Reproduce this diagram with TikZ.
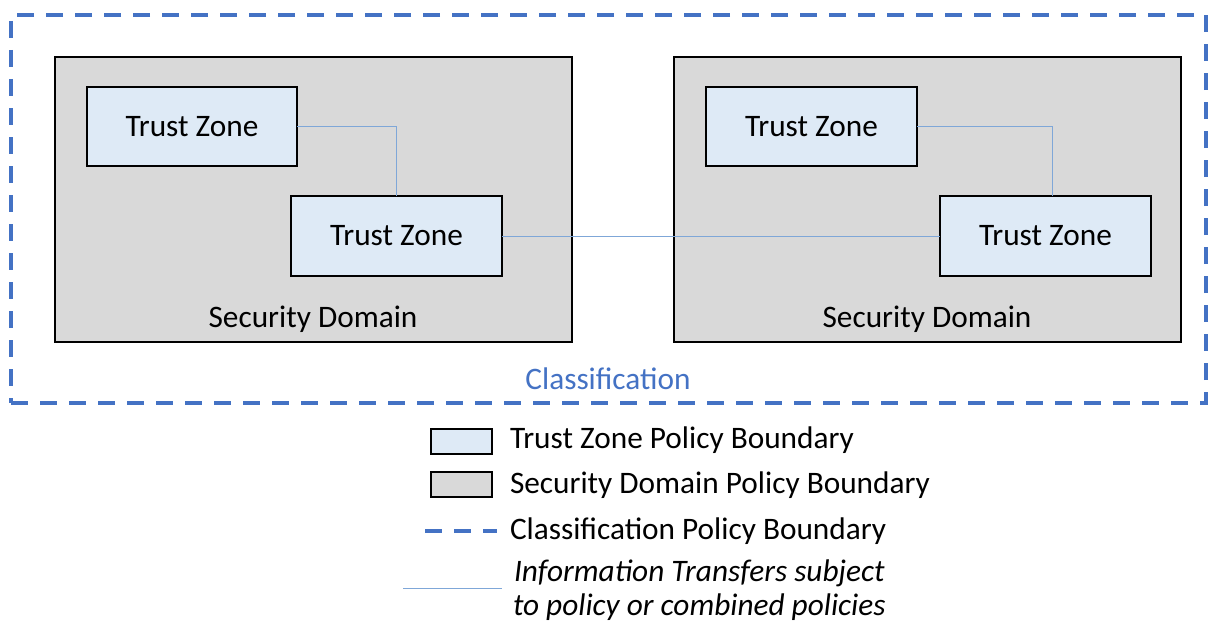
\documentclass[tikz,border=0pt]{standalone}
\usepackage{fontspec}
\setmainfont{Carlito}
\definecolor{classblue}{HTML}{4472C4}
\definecolor{zonefill}{HTML}{DEEAF6}
\definecolor{domainfill}{HTML}{D9D9D9}
\definecolor{linkblue}{HTML}{7FA7D8}
\begin{document}
\begin{tikzpicture}[x=1pt,y=-1pt,
  every node/.style={font=\fontsize{31.3}{37}\selectfont, inner sep=0pt, outer sep=0pt},
  zonebox/.style={draw=black, line width=1.5pt, fill=zonefill, minimum width=211pt, minimum height=80pt},
  domainbox/.style={draw=black, line width=1.5pt, fill=domainfill, minimum height=285pt},
  classline/.style={draw=classblue, line width=3.5pt, dash pattern=on 17pt off 12pt},
  link/.style={draw=linkblue, line width=1pt},
  legendbox/.style={draw=black, line width=1.5pt, minimum width=61pt, minimum height=25pt},
  legendtext/.style={anchor=west}
]
\useasboundingbox (0,0) rectangle (1208,621);

% classification boundary
\node[classline, minimum width=1195pt, minimum height=388pt] (cls) at (608.5,209) {};
\node[text=classblue] (clslabel) at (608,379) {Classification};

% security domains
\node[domainbox, minimum width=517pt] (sdl) at (313.5,199.5) {};
\node[domainbox, minimum width=507pt] (sdr) at (927.5,199.5) {};
\node (sdllabel) at (313,319) {Security Domain};
\node (sdrlabel) at (927,319) {Security Domain};

% trust zones
\node[zonebox, minimum width=210pt, minimum height=79pt] (tz1l) at (192,126.5) {Trust Zone};
\node[zonebox] (tz2l) at (396.5,236) {Trust Zone};
\node[zonebox, minimum height=79pt] (tz1r) at (811.5,126.5) {Trust Zone};
\node[zonebox] (tz2r) at (1045.5,236) {Trust Zone};

% information transfers
\draw[link] (tz1l.east) -| (tz2l.north);
\draw[link] (tz2l.east) -- (tz2r.west);
\draw[link] (tz1r.east) -| ([xshift=6.5pt]tz2r.north);

% legend
\node[legendbox, fill=zonefill] (lgzone) at (461.5,441.5) {};
\node[legendtext] (lgzonetext) at (510,440) {Trust Zone Policy Boundary};
\node[legendbox, fill=domainfill] (lgdomain) at (461.5,484.5) {};
\node[legendtext] (lgdomaintext) at (510,485) {Security Domain Policy Boundary};
\coordinate (lgdashA) at (425,531);
\coordinate (lgdashB) at (497,531);
\draw[classline] (lgdashA) -- (lgdashB);
\node[legendtext] (lgdashtext) at (510,531) {Classification Policy Boundary};
\coordinate (lglinkA) at (403,588);
\coordinate (lglinkB) at (502,588);
\draw[link] (lglinkA) -- (lglinkB);
\node[anchor=west, align=center, font=\fontsize{31.3}{34}\itshape\selectfont] (lglinktext) at (513,590) {Information Transfers subject\\to policy or combined policies};
\end{tikzpicture}
\end{document}
